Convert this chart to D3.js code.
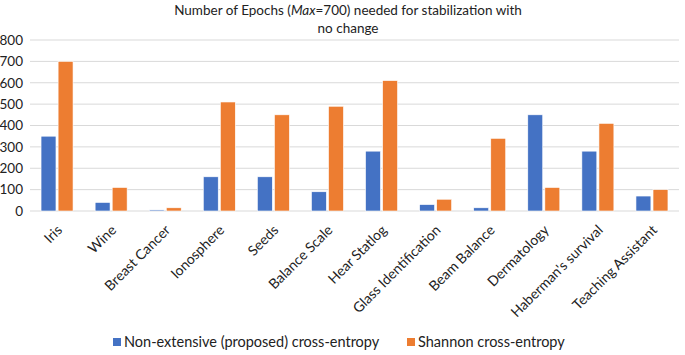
<!DOCTYPE html>
<html><head><meta charset="utf-8">
<script src="https://cdn.jsdelivr.net/npm/d3@7"></script>
<style>body{margin:0;background:#fff}svg{display:block}</style>
</head><body><svg id="c" width="685" height="355"></svg>
<script>
const categories = ["Iris","Wine","Breast Cancer","Ionosphere","Seeds","Balance Scale","Hear Statlog","Glass Identification","Beam Balance","Dermatology","Haberman's survival","Teaching Assistant"];
const nonExtensive = [350,40,5,160,160,90,280,30,15,450,280,70];
const shannon = [700,110,15,510,450,490,610,55,340,110,410,100];
const seriesNames = ["Non-extensive (proposed) cross-entropy","Shannon cross-entropy"];
const yTicks = [0,100,200,300,400,500,600,700,800];
const colors = ["#4472C4","#ED7D31"];

const font = "Lato, 'Open Sans', sans-serif";
const svg = d3.select("#c");
const L = 30, R = 679, T = 40, B = 211;
const x = d3.scaleBand().domain(categories).range([L, R]);
const x1 = d3.scaleBand().domain([0,1]).range([0, 32]).paddingInner(0.125);
const y = d3.scaleLinear().domain([0,800]).range([B, T]);

svg.append("g").selectAll("line").data(yTicks).join("line")
  .attr("x1", L).attr("x2", R).attr("y1", d=>y(d)).attr("y2", d=>y(d))
  .attr("stroke", "#d9d9d9").attr("stroke-width", 1);

const yAxis = svg.append("g").attr("transform", `translate(${L},0)`)
  .call(d3.axisLeft(y).tickValues(yTicks).tickSize(0).tickPadding(7));
yAxis.select(".domain").remove();
yAxis.selectAll("text").attr("font-family", font).attr("font-size", 13.5).attr("fill", "#222");

const data = [nonExtensive, shannon];
const g = svg.append("g");
categories.forEach((c, i) => {
  const off = x(c) + x.bandwidth()/2 - 16;
  data.forEach((s, j) => {
    g.append("rect").attr("x", off + x1(j)).attr("width", x1.bandwidth())
      .attr("y", y(s[i])).attr("height", B - y(s[i]))
      .attr("fill", colors[j]).attr("stroke", "#fff").attr("stroke-width", 0.6);
  });
});

const xAxis = svg.append("g").attr("transform", `translate(0,${B})`)
  .call(d3.axisBottom(x).tickSize(0).tickPadding(0));
xAxis.select(".domain").remove();
xAxis.selectAll("text").attr("font-family", font).attr("font-size", 14).attr("fill", "#222")
  .attr("text-anchor", "end").attr("dy", 0)
  .attr("transform", "translate(6,20) rotate(-45)");

const title = svg.append("text").attr("x", 348).attr("text-anchor", "middle")
  .attr("font-family", font).attr("font-size", 13.5).attr("fill", "#222");
const t1 = title.append("tspan").attr("x", 348).attr("y", 15);
t1.append("tspan").text("Number of Epochs (");
t1.append("tspan").attr("font-style", "italic").text("Max");
t1.append("tspan").text("=700) needed for stabilization with");
title.append("tspan").attr("x", 348).attr("y", 33).text("no change");

const legX = [113, 407];
seriesNames.forEach((n, j) => {
  svg.append("rect").attr("x", legX[j]).attr("y", 338).attr("width", 8).attr("height", 8).attr("fill", colors[j]);
  svg.append("text").attr("x", legX[j] + 11).attr("y", 347).attr("font-family", font)
    .attr("font-size", 14.5).attr("fill", "#222").text(n);
});
</script></body></html>
